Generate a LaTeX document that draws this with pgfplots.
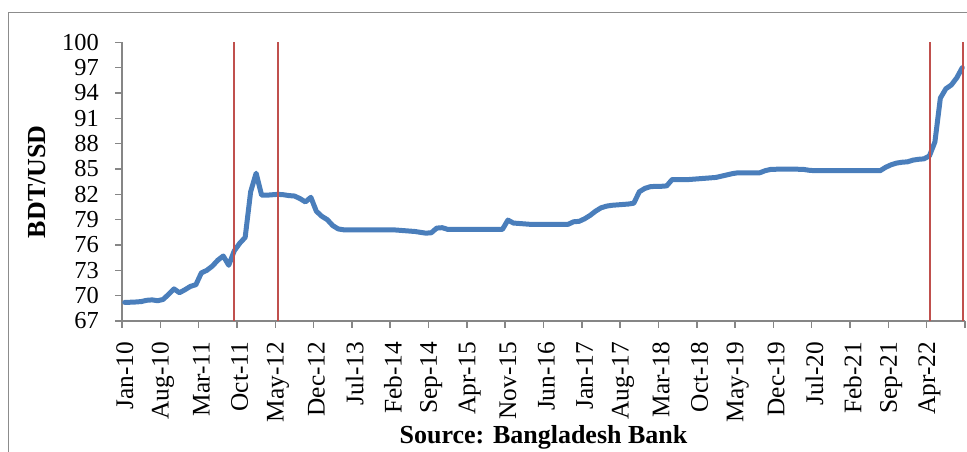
\documentclass[border=0pt]{standalone}
\usepackage{fontspec}
\setmainfont{Liberation Serif}
\usepackage{pgfplots}
\usepackage{pgfplotstable}
\pgfplotsset{compat=1.18}
\definecolor{exblue}{HTML}{4A7EBB}
\definecolor{exred}{HTML}{C0504D}
\definecolor{axgray}{HTML}{868686}
\definecolor{framegray}{HTML}{8C8C8C}
\pgfplotstableread{
c v
0 69.2
1 69.22
2 69.25
3 69.3
4 69.45
5 69.5
6 69.4
7 69.55
8 70.15
9 70.8
10 70.35
11 70.7
12 71.1
13 71.3
14 72.7
15 73.0
16 73.5
17 74.2
18 74.7
19 73.6
20 75.3
21 76.2
22 76.9
23 82.3
24 84.5
25 81.9
26 81.9
27 81.95
28 82.0
29 81.95
30 81.85
31 81.8
32 81.5
33 81.1
34 81.65
35 80.0
36 79.4
37 79.0
38 78.3
39 77.9
40 77.8
41 77.8
42 77.8
43 77.8
44 77.8
45 77.8
46 77.8
47 77.8
48 77.8
49 77.8
50 77.75
51 77.7
52 77.65
53 77.6
54 77.5
55 77.4
56 77.45
57 78.0
58 78.05
59 77.85
60 77.85
61 77.85
62 77.85
63 77.85
64 77.85
65 77.85
66 77.85
67 77.85
68 77.85
69 77.85
70 78.95
71 78.6
72 78.55
73 78.5
74 78.45
75 78.45
76 78.45
77 78.45
78 78.45
79 78.45
80 78.45
81 78.45
82 78.75
83 78.8
84 79.1
85 79.5
86 80.0
87 80.4
88 80.6
89 80.7
90 80.75
91 80.8
92 80.85
93 80.95
94 82.3
95 82.7
96 82.9
97 82.95
98 82.95
99 83.0
100 83.75
101 83.75
102 83.75
103 83.75
104 83.8
105 83.85
106 83.9
107 83.95
108 84.0
109 84.15
110 84.3
111 84.45
112 84.55
113 84.55
114 84.55
115 84.55
116 84.55
117 84.8
118 84.95
119 84.97
120 84.97
121 84.97
122 84.97
123 84.97
124 84.95
125 84.85
126 84.8
127 84.8
128 84.8
129 84.8
130 84.8
131 84.8
132 84.8
133 84.8
134 84.8
135 84.8
136 84.8
137 84.8
138 84.8
139 85.2
140 85.5
141 85.7
142 85.8
143 85.85
144 86.05
145 86.15
146 86.2
147 86.55
148 88.2
149 93.4
150 94.5
151 94.95
152 95.8
153 97.0
}\ratedata
\begin{document}
\begin{tikzpicture}
\path[use as bounding box] (0pt,0pt) rectangle (725.25pt,339pt);
\draw[framegray, line width=0.9pt] (6.2pt,0pt) -- (6.2pt,329.5pt) -- (725.25pt,329.5pt);
\begin{axis}[
  at={(91.5pt,98.25pt)}, anchor=south west,
  scale only axis, width=632.25pt, height=209pt,
  xmin=-0.5, xmax=153.5, ymin=67, ymax=100,
  enlargelimits=false, clip=false,
  axis x line*=bottom, axis y line*=left,
  axis line style={axgray, line width=1.1pt, -},
  every tick/.style={axgray, line width=1.1pt},
  tick align=outside, major tick length=5.25pt,
  ytick={67,70,...,100},
  xtick={-0.5,6.5,...,153.5},
  xticklabels={},
  extra x ticks={0,7,...,147},
  extra x tick labels={Jan-10,Aug-10,Mar-11,Oct-11,May-12,Dec-12,Jul-13,Feb-14,Sep-14,Apr-15,Nov-15,Jun-16,Jan-17,Aug-17,Mar-18,Oct-18,May-19,Dec-19,Jul-20,Feb-21,Sep-21,Apr-22},
  extra x tick style={major tick length=0pt},
  /pgf/number format/assume math mode=true,
  ticklabel style={font=\fontsize{18.3}{21}\selectfont, text=black, inner sep=0pt},
  xticklabel style={rotate=90, anchor=east, font=\fontsize{19}{21}\selectfont},
  xticklabel shift=15.5pt,
  yticklabel style={anchor=east},
  yticklabel shift=12pt,
  ylabel={BDT/USD},
  xlabel={Source: Bangladesh Bank},
  every axis y label/.style={at={(axis description cs:0,0.5)}, anchor=center, xshift=-63.75pt, rotate=90, font=\fontsize{19.5}{22}\selectfont\bfseries},
  every axis x label/.style={at={(axis description cs:0.5,0)}, anchor=center, yshift=-87pt, font=\fontsize{19.5}{22}\selectfont\bfseries},
]
\addplot[exblue, line width=3.75pt, line join=round, line cap=round] table[x=c, y=v] {\ratedata};
\addplot[exred, line width=1.1pt] coordinates {(20,67) (20,100)};
\addplot[exred, line width=1.1pt] coordinates {(28,67) (28,100)};
\addplot[exred, line width=1.1pt] coordinates {(147.1,67) (147.1,100)};
\addplot[exred, line width=1.1pt] coordinates {(153.1,67) (153.1,100)};
\end{axis}
\end{tikzpicture}
\end{document}
